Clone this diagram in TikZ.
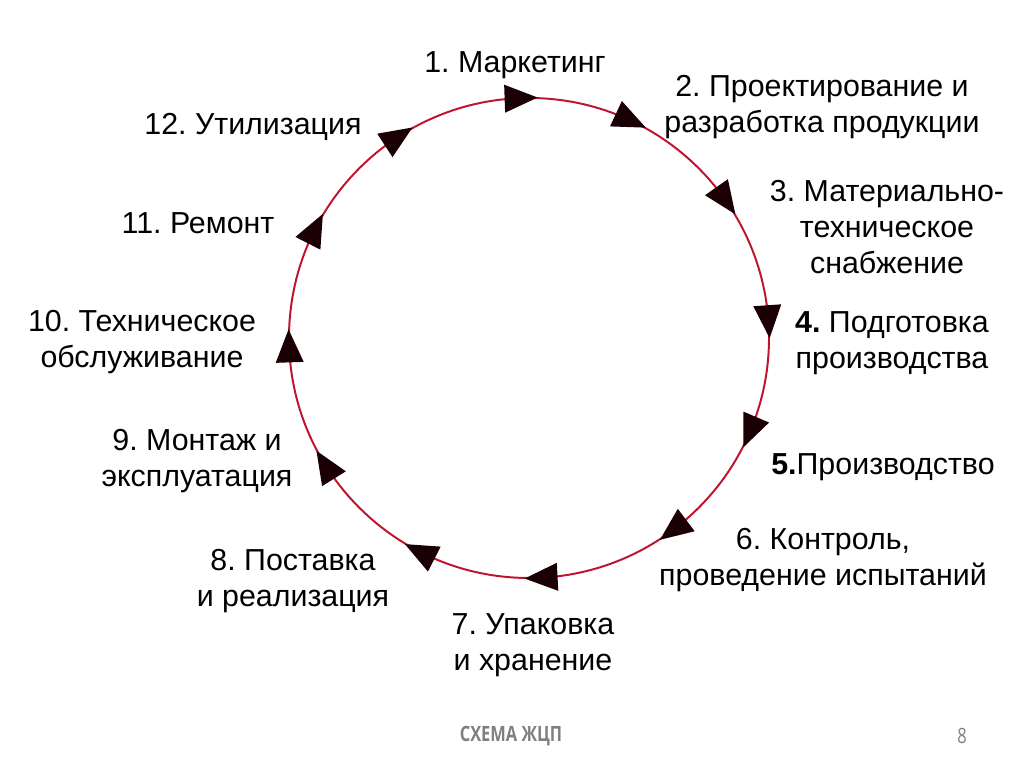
\documentclass[tikz,border=0pt]{standalone}
\usepackage{fontspec}
\setmainfont{Liberation Sans}
\newfontfamily\footfont[FakeStretch=0.78]{Open Sans}
\definecolor{ringred}{HTML}{C0142C}
\definecolor{footgray}{HTML}{7F7F7F}
\definecolor{trifill}{HTML}{1A0004}
\frenchspacing
\begin{document}
\begin{tikzpicture}[x=0.025cm,y=0.025cm,
  ring/.style={draw=ringred,line width=1.4pt},
  tri/.style={fill=trifill},
  lbl/.style={align=center,font=\fontsize{21.6}{25.8}\selectfont,inner sep=0pt},
  foot/.style={font=\footfont\fontsize{15}{18}\selectfont\bfseries,text=footgray,inner sep=0pt}]
\useasboundingbox (0,0) rectangle (1024,767);
\coordinate (C) at (529,429);
\draw[ring] (C) circle[radius=240];
% arrowheads (clockwise)
\foreach \a in {92,65,35,4,-23,-53,-87,-117,-148,-178,153,123}{
  \fill[tri,shift={(C)},rotate=\a] (240,-17) -- (226,16) -- (254,16) -- cycle;
}
% labels
\node[lbl] (s1) at (515,702) {1. Маркетинг};
\node[lbl] (s2) at (822,660) {2. Проектирование и\\разработка продукции};
\node[lbl] (s3) at (887,540) {3. Материально-\\техническое\\снабжение};
\node[lbl] (s4) at (892,424) {\textbf{4.} Подготовка\\производства};
\node[lbl] (s5) at (883,300) {\textbf{5.}Производство};
\node[lbl] (s6) at (823,207) {6. Контроль,\\проведение испытаний};
\node[lbl] (s7) at (533,122) {7. Упаковка\\и хранение};
\node[lbl] (s8) at (293,186) {8. Поставка\\и реализация};
\node[lbl] (s9) at (197,306) {9. Монтаж и\\эксплуатация};
\node[lbl] (s10) at (142,425) {10. Техническое\\обслуживание};
\node[lbl] (s11) at (198,544) {11. Ремонт};
\node[lbl] (s12) at (253,640) {12. Утилизация};
% footer
\node[foot] (ft) at (511,31) {СХЕМА ЖЦП};
\node[foot,font=\footfont\fontsize{15}{18}\selectfont] (pg) at (962,31) {8};
\end{tikzpicture}
\end{document}
